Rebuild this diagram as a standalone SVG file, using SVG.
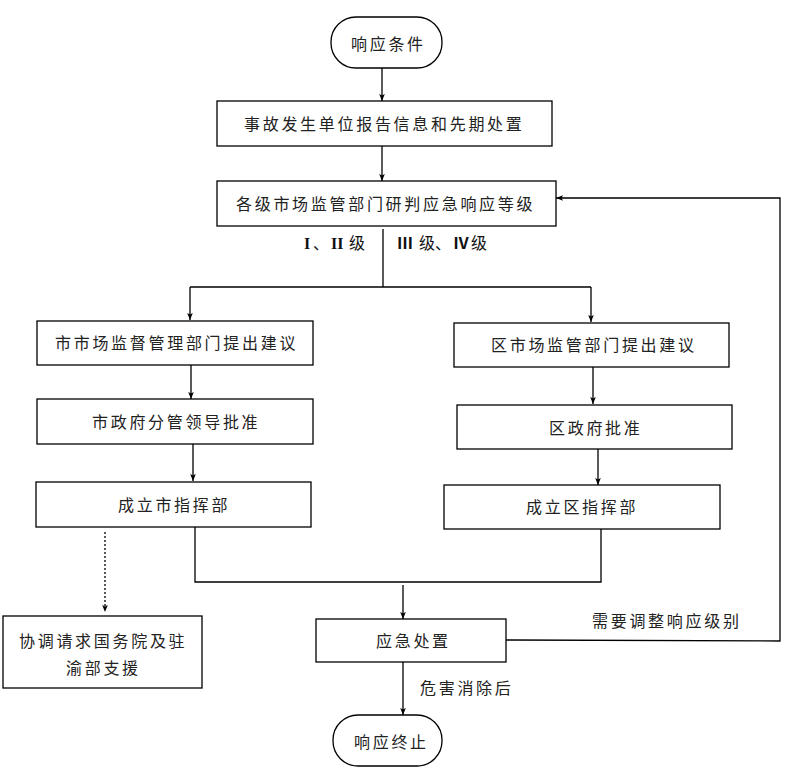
<svg xmlns="http://www.w3.org/2000/svg" width="794" height="769" viewBox="0 0 794 769">
<style>
.box{fill:#fff;stroke:#000;stroke-width:1.3}
.t{font-family:"Noto Sans CJK SC","Noto Sans CJK JP",sans-serif;font-size:16px;fill:#222;letter-spacing:2.7px;dominant-baseline:central}
.r{font-family:"Liberation Serif","Noto Sans CJK SC",serif;font-size:16px;fill:#111;dominant-baseline:central}
.b{font-weight:bold}
.ln{fill:none;stroke:#000;stroke-width:1.3}
.dot{fill:none;stroke:#000;stroke-width:1.3;stroke-dasharray:2 2}
</style>
<defs>
<marker id="ah" viewBox="0 0 10 10" refX="10" refY="5" markerWidth="7" markerHeight="7" markerUnits="userSpaceOnUse" orient="auto">
<path d="M0,1 L10,5 L0,9 L2,5 z" fill="#000"/>
</marker>
</defs>
<g id="connectors">
<path class="ln" d="M382,68 V101" marker-end="url(#ah)"/>
<path class="ln" d="M382,146 V181" marker-end="url(#ah)"/>
<path class="ln" d="M383,229 V287"/>
<path class="ln" d="M190,287 H591"/>
<path class="ln" d="M190,287 V320" marker-end="url(#ah)"/>
<path class="ln" d="M591,287 V322" marker-end="url(#ah)"/>
<path class="ln" d="M191,365 V399" marker-end="url(#ah)"/>
<path class="ln" d="M593,367 V404" marker-end="url(#ah)"/>
<path class="ln" d="M193,444 V481" marker-end="url(#ah)"/>
<path class="ln" d="M598,449 V485" marker-end="url(#ah)"/>
<path class="dot" d="M105,532 V612" marker-end="url(#ah)"/>
<path class="ln" d="M195,527 V582 H601 V529"/>
<path class="ln" d="M403,585 V619" marker-end="url(#ah)"/>
<path class="ln" d="M506,640 L780,641 V198 H556" marker-end="url(#ah)"/>
<path class="ln" d="M403,662 V715" marker-end="url(#ah)"/>
<text class="r" y="243"><tspan class="b" x="304">I</tspan><tspan x="313">、</tspan><tspan class="b" x="331">II</tspan><tspan x="349">级</tspan></text>
<text class="r" y="243"><tspan class="b" x="397">Ⅲ</tspan><tspan x="419">级、</tspan><tspan class="b" x="453">Ⅳ</tspan><tspan x="471">级</tspan></text>
<text class="t" x="592" y="620">需要调整响应级别</text>
<text class="t" x="420" y="687">危害消除后</text>
</g>
<g id="start">
<rect class="box" x="331" y="17" width="111" height="51" rx="25" ry="25"/>
<text class="t" x="351" y="43">响应条件</text>
</g>
<g id="report">
<rect class="box" x="217" y="101" width="335" height="45"/>
<text class="t" x="244" y="123">事故发生单位报告信息和先期处置</text>
</g>
<g id="judge">
<rect class="box" x="217" y="181" width="339" height="45"/>
<text class="t" x="236" y="203">各级市场监管部门研判应急响应等级</text>
</g>
<g id="city1">
<rect class="box" x="37" y="321" width="276" height="44"/>
<text class="t" x="55" y="342">市市场监督管理部门提出建议</text>
</g>
<g id="dist1">
<rect class="box" x="454" y="323" width="275" height="44"/>
<text class="t" x="491" y="344">区市场监管部门提出建议</text>
</g>
<g id="city2">
<rect class="box" x="37" y="399" width="276" height="45"/>
<text class="t" x="92" y="421">市政府分管领导批准</text>
</g>
<g id="dist2">
<rect class="box" x="457" y="405" width="275" height="44"/>
<text class="t" x="549" y="427">区政府批准</text>
</g>
<g id="city3">
<rect class="box" x="36" y="482" width="275" height="45"/>
<text class="t" x="118" y="504">成立市指挥部</text>
</g>
<g id="dist3">
<rect class="box" x="444" y="485" width="276" height="44"/>
<text class="t" x="526" y="506">成立区指挥部</text>
</g>
<g id="support">
<rect class="box" x="3" y="616" width="199" height="72"/>
<text class="t" x="19" y="640">协调请求国务院及驻</text>
<text class="t" x="66" y="667">渝部支援</text>
</g>
<g id="handle">
<rect class="box" x="316" y="619" width="190" height="43"/>
<text class="t" x="376" y="640">应急处置</text>
</g>
<g id="end">
<rect class="box" x="333" y="715" width="109" height="51" rx="25" ry="25"/>
<text class="t" x="354" y="741">响应终止</text>
</g>
</svg>
